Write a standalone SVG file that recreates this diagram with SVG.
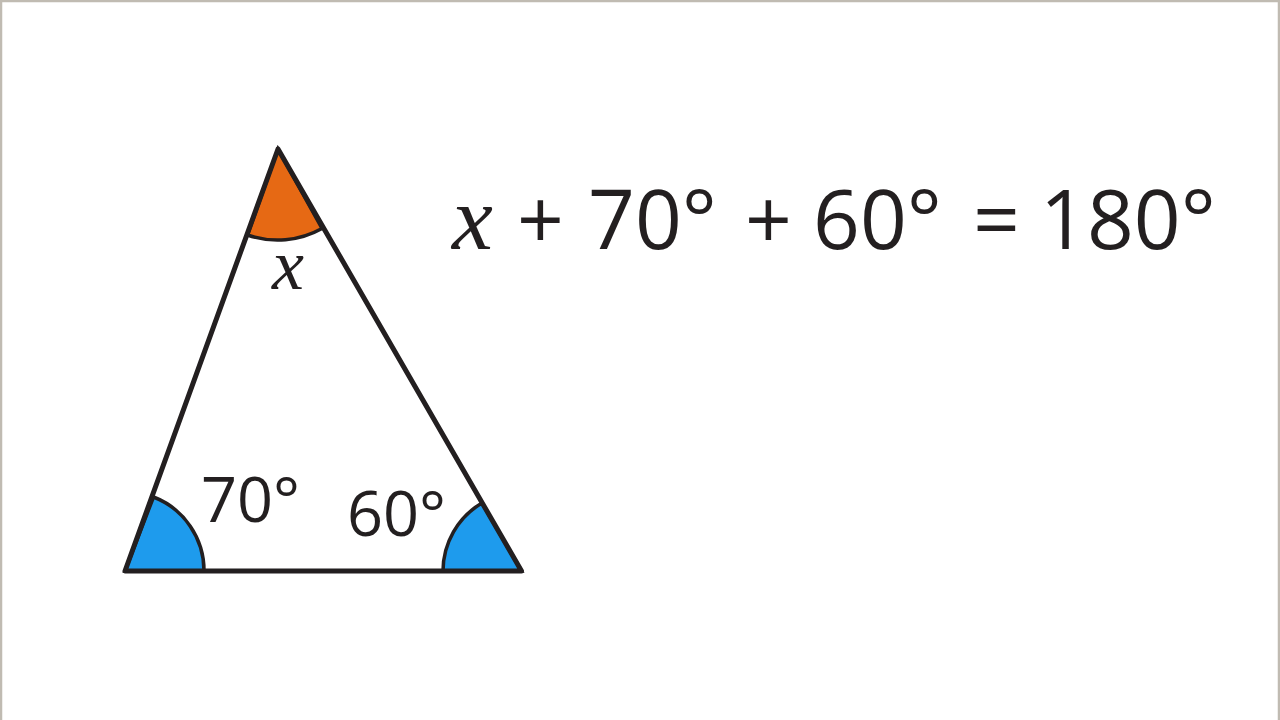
<svg xmlns="http://www.w3.org/2000/svg" width="1280" height="720" viewBox="0 0 1280 720">
  <style>
    .edge { fill: none; stroke: #231f20; stroke-width: 5; stroke-linejoin: round; stroke-linecap: round; }
    .arc { stroke: #231f20; stroke-width: 3.5; }
    .lbl { font-family: "Open Sans", "Noto Sans", sans-serif; fill: #231f20; }
    .eq { font-family: "Open Sans", "Noto Sans", sans-serif; fill: #231f20; font-size: 82px; }
    .var { font-family: "Liberation Serif", "DejaVu Serif", serif; font-style: italic; fill: #231f20; }
  </style>
  <rect x="0" y="0" width="1280" height="720" fill="#ffffff"/>
  <path d="M1,720 V1 H1279 V720" fill="none" stroke="#c0bbb2" stroke-width="2.5"/>

  <g id="angle-top">
    <path class="arc" d="M278,149 L247.5,235 A91,91 0 0 0 322,228.5 Z" fill="#e66914"/>
  </g>
  <g id="angle-left">
    <path class="arc" d="M125,571 L153.5,497 A79,79 0 0 1 204,571 Z" fill="#1e9bed"/>
  </g>
  <g id="angle-right">
    <path class="arc" d="M521.5,571 L482,503 A79,79 0 0 0 443,571 Z" fill="#1e9bed"/>
  </g>

  <g id="triangle">
    <path class="edge" d="M278,149 L125,571 L521.5,571 Z"/>
  </g>

  <g id="labels">
    <text class="var" x="272" y="289" font-size="72">x</text>
    <text class="lbl" x="201" y="522" font-size="63">70°</text>
    <text class="lbl" x="347" y="536" font-size="63">60°</text>
  </g>

  <g id="equation">
    <text class="var" x="452" y="249" font-size="92">x</text>
    <text class="eq" x="517" y="249">+</text>
    <text class="eq" x="588" y="249">70°</text>
    <text class="eq" x="745" y="249">+</text>
    <text class="eq" x="813" y="249">60°</text>
    <text class="eq" x="973" y="249">=</text>
    <text class="eq" x="1040" y="249">180°</text>
  </g>
</svg>
